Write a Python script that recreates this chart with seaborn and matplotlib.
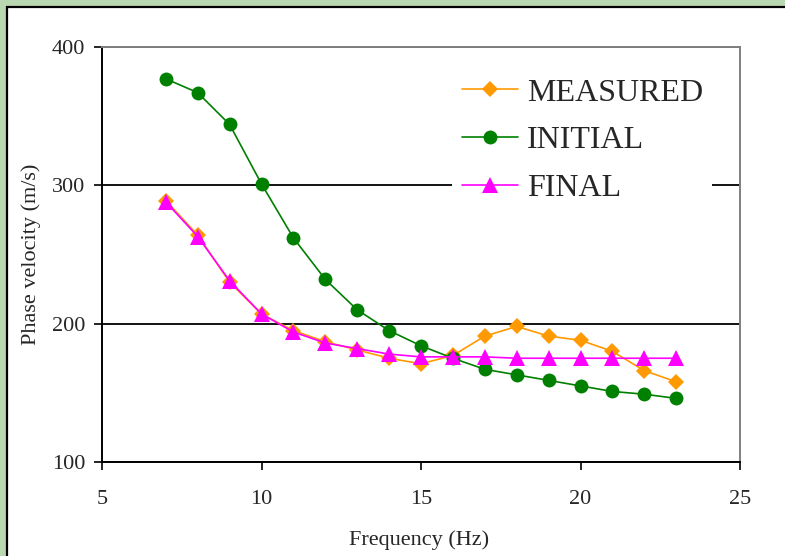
import numpy as np
import pandas as pd
import seaborn as sns
import matplotlib
matplotlib.use('Agg')
import matplotlib.pyplot as plt
from matplotlib.patches import Rectangle

# data
freq = [7, 8, 9, 10, 11, 12, 13, 14, 15, 16, 17, 18, 19, 20, 21, 22, 23]
measured = [289, 264, 230, 207, 195, 187, 181, 175, 171, 177, 191, 198, 191, 188, 180, 166, 158]
initial = [377, 367, 344, 301, 262, 232, 210, 195, 184, 175, 167, 163, 159, 155, 151, 149, 146]
final = [288, 263, 231, 207, 194, 186, 182, 178, 176, 176, 176, 175, 175, 175, 175, 175, 175]

series = ['MEASURED', 'INITIAL', 'FINAL']
colors = {'MEASURED': '#FF9900', 'INITIAL': '#008000', 'FINAL': '#FF00FF'}
markers = {'MEASURED': 'D', 'INITIAL': 'o', 'FINAL': '^'}
msizes = {'MEASURED': 8.5, 'INITIAL': 10, 'FINAL': 11}

df = pd.DataFrame({'freq': freq * 3,
                   'velocity': measured + initial + final,
                   'series': np.repeat(series, len(freq))})

sns.set_style('white')
plt.rcParams['font.family'] = ['Liberation Serif', 'DejaVu Serif']
fontsize = 16

fig = plt.figure(figsize=(7.85, 5.56), dpi=100)
fig.patch.set_facecolor('#b9d8b1')
# white panel behind the chart
panel = Rectangle((7 / 785, -0.1), 1.2, 1.1 - 7 / 556, transform=fig.transFigure,
                  facecolor='white', edgecolor='black', linewidth=1.6, zorder=-10)
fig.add_artist(panel)

ax = fig.add_axes([102 / 785, 1 - 462 / 556, 638 / 785, 415 / 556])
ax.set_facecolor('white')

for s in series:
    sns.lineplot(data=df[df.series == s], x='freq', y='velocity', ax=ax, color=colors[s],
                 marker=markers[s], markersize=msizes[s], markeredgecolor=colors[s],
                 markeredgewidth=0, linewidth=1.2, label=s, zorder=3)

ax.set_xlim(5, 25)
ax.set_ylim(100, 400)
ax.set_xticks([5, 10, 15, 20, 25])
ax.set_yticks([100, 200, 300, 400])
ax.grid(axis='y', color='black', linewidth=1.3)
ax.grid(axis='x', visible=False)
ax.set_axisbelow(True)

for side in ['left', 'bottom']:
    ax.spines[side].set_color('black')
    ax.spines[side].set_linewidth(1.4)
for side in ['top', 'right']:
    ax.spines[side].set_color('#808080')
    ax.spines[side].set_linewidth(1.4)

ax.tick_params(axis='both', which='both', direction='out', length=6, width=1.2,
               color='black', labelsize=fontsize, left=True, bottom=True, pad=6)
ax.tick_params(axis='x', pad=14)

ax.set_xlabel('Frequency (Hz)', fontsize=fontsize)
ax.set_ylabel('Phase velocity (m/s)', fontsize=fontsize)
ax.xaxis.set_label_coords(0.497, -0.165)
ax.yaxis.set_label_coords(-0.095, 0.5)

leg = ax.legend(loc='upper left', bbox_to_anchor=(0.549, 0.948), borderaxespad=0,
                fontsize=23, handlelength=1.75, handletextpad=0.28, labelspacing=0.58,
                frameon=True, facecolor='white', edgecolor='none', framealpha=1,
                borderpad=0.3)
leg.get_frame().set_boxstyle('square', pad=0)

fig.savefig('out.png', dpi=100, facecolor=fig.get_facecolor())
